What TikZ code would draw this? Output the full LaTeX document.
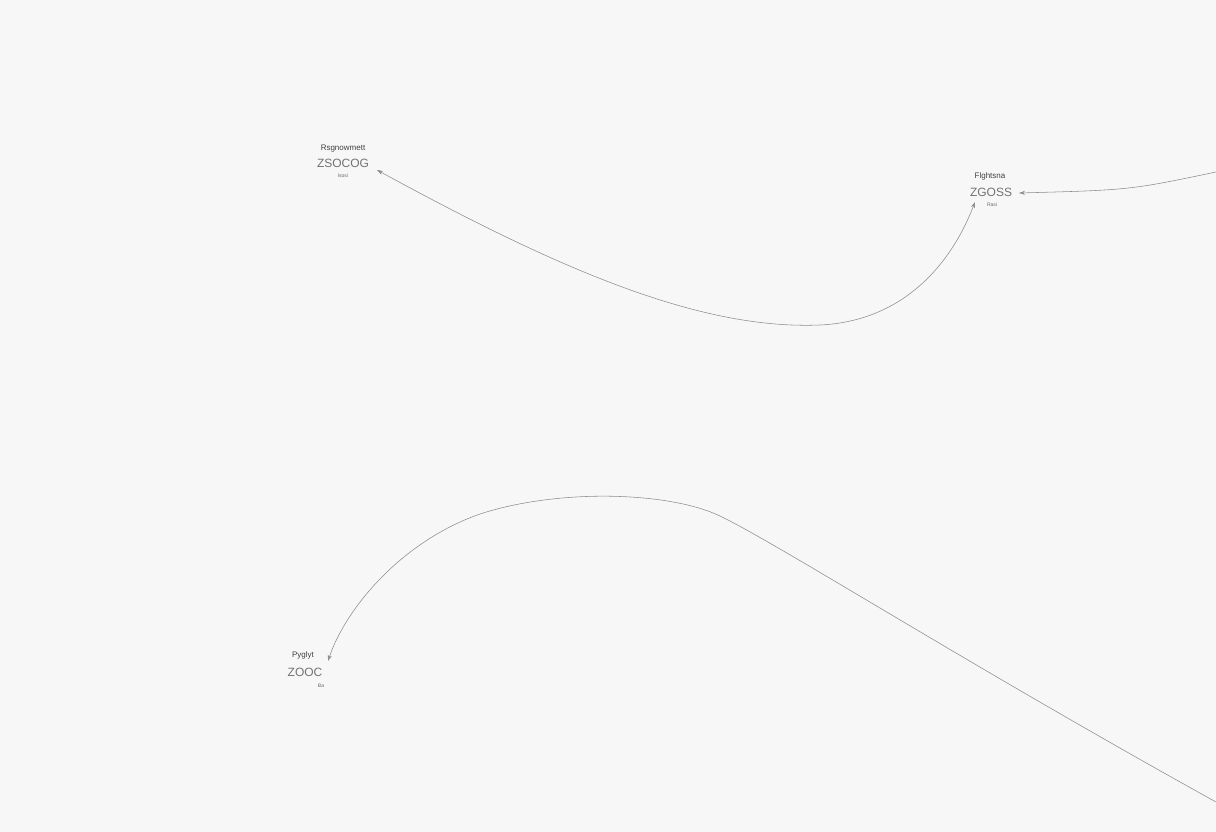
\documentclass[tikz,border=0pt]{standalone}
\usepackage{fontspec}
\setmainfont{Liberation Sans}
\usetikzlibrary{arrows.meta}
\begin{document}
\begin{tikzpicture}[x=1pt,y=-1pt,
  ttl/.style={font=\fontsize{8}{9}\selectfont,text=black!75,inner sep=0pt},
  code/.style={font=\fontsize{12}{13}\selectfont,text=black!55,inner sep=0pt},
  sub/.style={font=\fontsize{5}{6}\selectfont,text=black!60,inner sep=0pt},
  conn/.style={draw=black!45,line width=0.55pt,-{Stealth[length=6pt,width=4pt]}},
  conn2/.style={draw=black!45,line width=0.55pt,{Stealth[length=6pt,width=4pt]}-{Stealth[length=6pt,width=4pt]}}]
\fill[white!97!black] (0,0) rectangle (1216,832);
\useasboundingbox (0,0) rectangle (1216,832);
% node 1
\node[ttl] (a1) at (343,149) {Rsgnowmett};
\node[code] (a2) at (343,163) {ZSOCOG};
\node[sub] (a3) at (343,176) {lsosi};
% node 2
\node[ttl] (b1) at (990,176) {Flghtsna};
\node[code] (b2) at (991,192) {ZGOSS};
\node[sub] (b3) at (992,205) {Rasi};
% node 3
\node[ttl] (c1) at (303,655) {Pyglyt};
\node[code] (c2) at (305,672) {ZOOC};
\node[sub] (c3) at (321,686) {Ba};
% ends
\coordinate (e1) at (377,170);
\coordinate (e2) at (975,202);
\coordinate (e3) at (1019,193);
\coordinate (e4) at (328,661);
\coordinate (r1) at (1216,172);
\coordinate (r2) at (1216,802);
\draw[conn2] (e1) .. controls (560,270) and (700,330) .. (820,325)
  .. controls (905,321) and (952,262) .. (e2);
\draw[conn] (r1) .. controls (1130,190) .. (e3);
\draw[conn] (r2) .. controls (960,660) and (780,545) .. (720,516)
  .. controls (670,492) and (560,488) .. (480,514)
  .. controls (400,542) and (345,610) .. (e4);
\end{tikzpicture}
\end{document}
